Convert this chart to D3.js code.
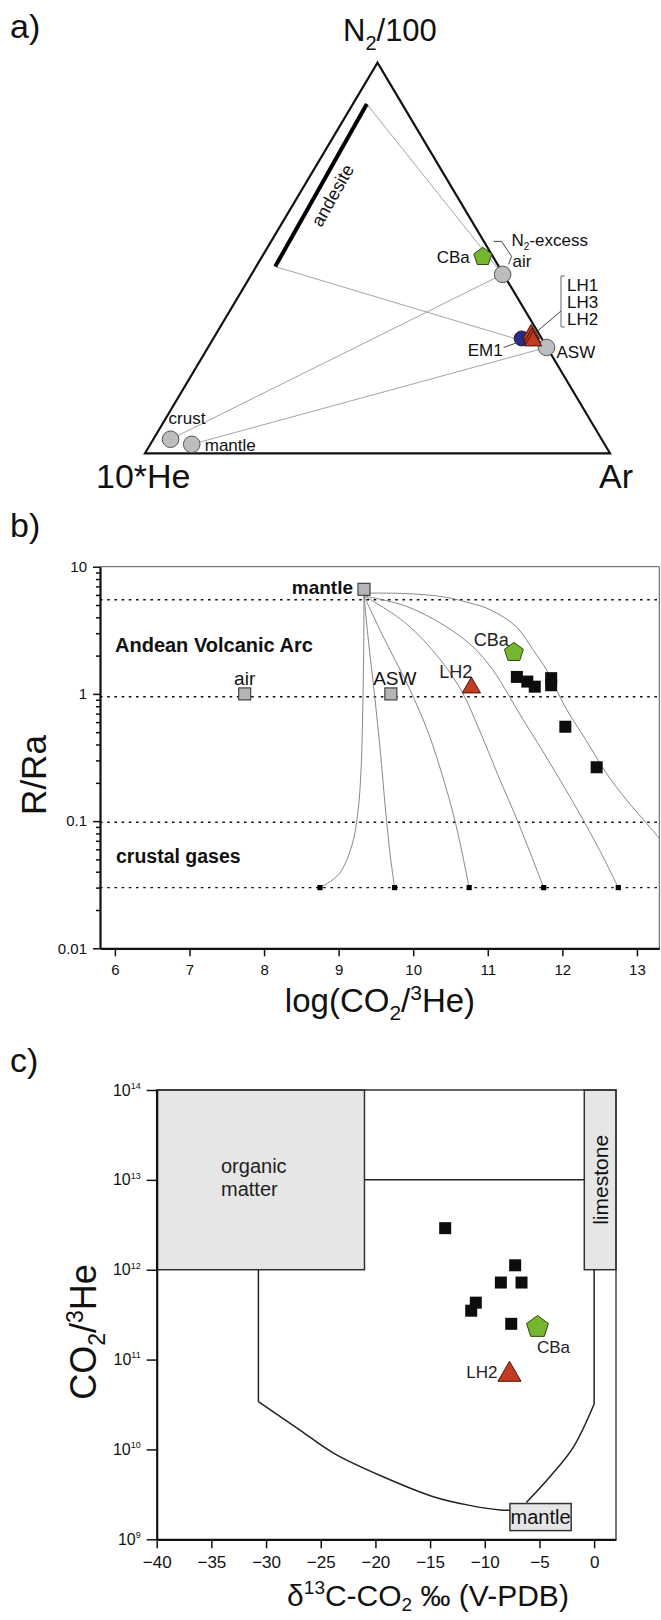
<!DOCTYPE html>
<html><head><meta charset="utf-8">
<script src="https://cdn.jsdelivr.net/npm/d3@7"></script>
<style>body{margin:0;background:#fff}</style>
</head><body>
<script>
// ---------------- DATA ----------------
// Panel a: ternary N2/100 - 10*He - Ar (fractions; He = 1 - N2 - Ar)
const ternaryEndMembers = [
  {name:"air",    N2:0.458, Ar:0.540},
  {name:"ASW",    N2:0.271, Ar:0.728},
  {name:"crust",  N2:0.036, Ar:0.037},
  {name:"mantle", N2:0.023, Ar:0.089}
];
const ternaryCBa = [{name:"CBa", N2:0.503, Ar:0.475}];
const ternaryEM1 = [{name:"EM1", N2:0.294, Ar:0.663}];
const ternaryLH = [
  {name:"LH1", N2:0.305,  Ar:0.678},
  {name:"LH3", N2:0.295,  Ar:0.685},
  {name:"LH2", N2:0.2875, Ar:0.691}
];
const andesiteLine = [{N2:0.894, Ar:0.030}, {N2:0.478, Ar:0.041}];
const ternaryTieLines = [
  [{N2:0.894, Ar:0.030}, {N2:0.458, Ar:0.540}],
  [{N2:0.478, Ar:0.041}, {N2:0.290, Ar:0.661}],
  [{N2:0.036, Ar:0.037}, {N2:0.458, Ar:0.540}],
  [{N2:0.023, Ar:0.089}, {N2:0.271, Ar:0.728}]
];

// Panel b: R/Ra vs log(CO2/3He)
const bXTicks = [6,7,8,9,10,11,12,13];
const bYTicks = [0.01,0.1,1,10];
const bDottedLevels = [5.5, 0.95, 0.098, 0.03];
const bEndMembers = [
  {name:"mantle", x:9.34, r:6.64},
  {name:"air",    x:7.74, r:1.0},
  {name:"ASW",    x:9.70, r:1.0}
];
const bSamples = [
  [11.39,1.36],[11.53,1.25],[11.63,1.14],[11.85,1.33],[11.85,1.17],[12.04,0.552],[12.46,0.265]
];
const bCBa = [{x:11.35, r:2.12}];
const bLH2 = [{x:10.78, r:1.12}];
const bCrustEnds = [8.75, 9.75, 10.75, 11.75, 12.75];
const bCrustR = 0.03;
const bMixingCurves = [
  [[9.34,5.9],[9.335,2.0],[9.32,0.6],[9.30,0.25],[9.26,0.12],[9.18,0.065],[9.0,0.038],[8.75,0.03]],
  [[9.34,5.9],[9.40,2.6],[9.48,1.0],[9.56,0.35],[9.63,0.12],[9.69,0.055],[9.75,0.03]],
  [[9.34,5.9],[9.6,2.8],[9.95,1.1],[10.2,0.5],[10.42,0.2],[10.58,0.09],[10.75,0.03]],
  [[9.34,5.9],[9.9,3.6],[10.35,1.9],[10.65,1.05],[10.9,0.5],[11.15,0.22],[11.4,0.1],[11.75,0.03]],
  [[9.34,5.9],[9.9,4.9],[10.4,3.5],[10.8,2.35],[11.07,1.54],[11.27,1.0],[11.45,0.66],[11.7,0.385],[11.97,0.21],[12.23,0.115],[12.5,0.059],[12.75,0.03]],
  [[9.34,6.2],[9.9,6.15],[10.4,5.8],[10.75,5.2],[11.03,4.6],[11.38,3.38],[11.61,2.21],[11.79,1.54],[11.9,1.14],[12.06,0.75],[12.32,0.43],[12.59,0.238],[12.86,0.147],[13.13,0.096],[13.3,0.073],[13.75,0.03]]
];

// Panel c: CO2/3He vs d13C-CO2
const cXTicks = [-40,-35,-30,-25,-20,-15,-10,-5,0];
const cYTicks = [1e9,1e10,1e11,1e12,1e13,1e14];
const cOrganicBox = {x0:-40, x1:-21, y0:1e12, y1:1e14};
const cLimestoneBox = {x0:-0.9, x1:2, y0:1e12, y1:1e14};
const cMantleBox = {x0:-7.7, x1:-2.1, y0:1.25e9, y1:2.5e9};
const cTopLine = [[-21,1e13],[-0.9,1e13]];
const cLeftVertical = [[-30.7,1e12],[-30.7,3.4e10]];
const cLeftCurve = [[-30.7,3.4e10],[-26.9,1.64e10],[-23.8,9.06e9],[-19.3,4.97e9],[-14.7,2.98e9],[-11.5,2.4e9],[-8.6,2.12e9],[-7.7,2.1e9]];
const cRightVertical = [[0,1e12],[0,3.2e10]];
const cRightCurve = [[0,3.2e10],[-1.88,1.07e10],[-4.02,5.0e9],[-6.2,2.57e9]];
const cSamples = [
  [-13.62,2.9e12],[-7.22,1.12e12],[-8.53,7.2e11],[-6.64,7.2e11],[-10.82,4.3e11],[-11.24,3.5e11],[-7.58,2.5e11]
];
const cCBa = [{x:-5.18, y:2.3e11}];
const cLH2 = [{x:-7.74, y:6.8e10}];

// ---------------- DRAW ----------------
const FONT = "'Liberation Sans', Arial, Helvetica, sans-serif";
const svg = d3.select("body").append("svg")
  .attr("width", 661).attr("height", 1620)
  .style("font-family", FONT).style("background","#fff");

const RED = "#c33b20", GREEN = "#74b72e", BLUE = "#2b2a8a", GREY = "#bdbdbf";

function pentagon(r){
  const pts = d3.range(5).map(k => {
    const a = -Math.PI/2 + k*2*Math.PI/5;
    return [r*Math.cos(a), r*Math.sin(a)];
  });
  return "M" + pts.map(p => p.join(",")).join("L") + "Z";
}
function text(g, x, y, s, size, opts={}){
  const t = g.append("text").attr("x", x).attr("y", y).attr("font-size", size)
    .attr("fill", opts.fill || "#111").text(s);
  if (opts.anchor) t.attr("text-anchor", opts.anchor);
  if (opts.weight) t.attr("font-weight", opts.weight);
  return t;
}

// ===== Panel a =====
const ga = svg.append("g");
const terX = d3.scaleLinear().domain([0,1]).range([145,610]);
const terY = d3.scaleLinear().domain([0,1]).range([453.3,62.7]);
const tx = d => terX(d.Ar + d.N2/2), ty = d => terY(d.N2);
const terLine = d3.line().x(tx).y(ty);

text(ga, 10, 38, "a)", 34);
const ttl = text(ga, 343, 41, "N", 31);
ttl.append("tspan").attr("font-size", 20).attr("dy", 9).text("2");
ttl.append("tspan").attr("dy", -9).text("/100");
text(ga, 96, 488, "10*He", 34);
text(ga, 599, 488, "Ar", 34);

ga.append("path")
  .attr("d", terLine([{N2:0,Ar:0},{N2:1,Ar:0},{N2:0,Ar:1}]) + "Z")
  .attr("fill","none").attr("stroke","#111").attr("stroke-width",2.2).attr("stroke-linejoin","miter");

ternaryTieLines.forEach(l => ga.append("path").attr("d", terLine(l))
  .attr("fill","none").attr("stroke","#9a9a9a").attr("stroke-width",0.9));

ga.append("path").attr("d", terLine(andesiteLine))
  .attr("stroke","#000").attr("stroke-width",4).attr("fill","none");
{
  const p0 = andesiteLine[0], p1 = andesiteLine[1];
  const ang = Math.atan2(ty(p0)-ty(p1), tx(p0)-tx(p1)) * 180/Math.PI;
  ga.append("text").attr("transform", `translate(${(tx(p0)+tx(p1))/2 + 17},${(ty(p0)+ty(p1))/2 + 13}) rotate(${ang})`)
    .attr("text-anchor","middle").attr("font-size",18).attr("fill","#111").text("andesite");
}

ga.selectAll("circle.em").data(ternaryEndMembers).join("circle")
  .attr("cx", tx).attr("cy", ty).attr("r", 8.3)
  .attr("fill", GREY).attr("stroke","#555").attr("stroke-width",1);
ga.selectAll("circle.em1").data(ternaryEM1).join("circle")
  .attr("cx", tx).attr("cy", ty).attr("r", 7.5)
  .attr("fill", BLUE).attr("stroke","#222").attr("stroke-width",1);
ga.selectAll("path.lh").data(ternaryLH).join("path")
  .attr("transform", d => `translate(${tx(d)},${ty(d)})`)
  .attr("d", d3.symbol(d3.symbolTriangle, 125)())
  .attr("fill", RED).attr("stroke","#4a1508").attr("stroke-width",1);
ga.selectAll("path.cba").data(ternaryCBa).join("path")
  .attr("transform", d => `translate(${tx(d)},${ty(d)})`)
  .attr("d", pentagon(9.5))
  .attr("fill", GREEN).attr("stroke","#2e4a12").attr("stroke-width",1);

// labels panel a
{
  const air = ternaryEndMembers[0], asw = ternaryEndMembers[1], crust = ternaryEndMembers[2], mant = ternaryEndMembers[3];
  const cba = ternaryCBa[0], em1 = ternaryEM1[0];
  text(ga, tx(cba)-13, ty(cba)+6, "CBa", 17, {anchor:"end"});
  text(ga, tx(air)+10, ty(air)-7, "air", 17);
  const n2 = text(ga, tx(air)+9, ty(air)-28, "N", 17);
  n2.append("tspan").attr("font-size",10).attr("dy",4).text("2");
  n2.append("tspan").attr("dy",-4).text("-excess");
  ga.append("path").attr("d", `M${tx(air)-9},${ty(air)-33}L${tx(air)-1},${ty(air)-33}L${tx(air)+9},${ty(air)-18}L${tx(air)+6},${ty(air)-10}`)
    .attr("fill","none").attr("stroke","#444").attr("stroke-width",1);
  text(ga, tx(asw)+10, ty(asw)+11, "ASW", 17);
  text(ga, tx(em1)-19, ty(em1)+18, "EM1", 17, {anchor:"end"});
  ga.append("path").attr("d", `M${tx(em1)-18},${ty(em1)+9}L${tx(em1)-4},${ty(em1)+4}`)
    .attr("stroke","#444").attr("stroke-width",1);
  const bx = 561;
  ga.append("path").attr("d", `M${bx+4},276L${bx},276L${bx},327L${bx+4},327`)
    .attr("fill","none").attr("stroke","#666").attr("stroke-width",1);
  ga.append("path").attr("d", `M${bx},311L${tx(ternaryLH[0])+5},${ty(ternaryLH[0])-2}`)
    .attr("stroke","#444").attr("stroke-width",1);
  ternaryLH.forEach((d,i) => text(ga, bx+6, 290.5 + i*17, d.name, 17));
  text(ga, tx(crust)-2, ty(crust)-15, "crust", 17);
  text(ga, tx(mant)+13, ty(mant)+6.5, "mantle", 17);
}

// ===== Panel b =====
const gb = svg.append("g");
const xB = d3.scaleLinear().domain([5.8,13.3]).range([100,659.3]);
const yB = d3.scaleLog().domain([0.01,10]).range([948.3,566.7]);
text(gb, 10, 537, "b)", 34);

svg.append("defs").append("clipPath").attr("id","clipB").append("rect")
  .attr("x",100).attr("y",566.7).attr("width",559.3).attr("height",381.6);

gb.selectAll("line.lvl").data(bDottedLevels).join("line")
  .attr("x1", xB(5.8)).attr("x2", xB(13.3)).attr("y1", d=>yB(d)).attr("y2", d=>yB(d))
  .attr("stroke","#111").attr("stroke-width",1.4).attr("stroke-dasharray","2.6,4.6");

const curveLine = d3.line().x(d=>xB(d[0])).y(d=>yB(d[1])).curve(d3.curveCatmullRom.alpha(0.5));
gb.append("g").attr("clip-path","url(#clipB)").selectAll("path").data(bMixingCurves).join("path")
  .attr("d", curveLine).attr("fill","none").attr("stroke","#7a7a7a").attr("stroke-width",0.9);

gb.selectAll("rect.ce").data(bCrustEnds).join("rect")
  .attr("x", d=>xB(d)-2.6).attr("y", yB(bCrustR)-2.6).attr("width",5.2).attr("height",5.2).attr("fill","#000");

// frame
gb.append("path").attr("d", `M${xB(5.8)},${yB(10)}H${xB(13.3)}V${yB(0.01)}`)
  .attr("fill","none").attr("stroke","#555").attr("stroke-width",1);

gb.selectAll("rect.em").data(bEndMembers).join("rect")
  .attr("x", d=>xB(d.x)-6).attr("y", d=>yB(d.r)-6).attr("width",12).attr("height",12)
  .attr("fill","#b5b5b8").attr("stroke","#444").attr("stroke-width",1.2);
gb.selectAll("rect.smp").data(bSamples).join("rect")
  .attr("x", d=>xB(d[0])-6).attr("y", d=>yB(d[1])-6).attr("width",12).attr("height",12)
  .attr("fill","#0d0d0d");
gb.selectAll("path.cba").data(bCBa).join("path")
  .attr("transform", d=>`translate(${xB(d.x)},${yB(d.r)})`).attr("d", pentagon(10))
  .attr("fill", GREEN).attr("stroke","#2e4a12").attr("stroke-width",1);
gb.selectAll("path.lh2").data(bLH2).join("path")
  .attr("transform", d=>`translate(${xB(d.x)},${yB(d.r)})`).attr("d", d3.symbol(d3.symbolTriangle,145)())
  .attr("fill", RED).attr("stroke","#4a1508").attr("stroke-width",1);

// labels b
text(gb, xB(bEndMembers[0].x)-11, yB(bEndMembers[0].r)+5, "mantle", 19, {anchor:"end", weight:"bold"});
text(gb, xB(bEndMembers[1].x), yB(bEndMembers[1].r)-9, "air", 19, {anchor:"middle"});
text(gb, xB(bEndMembers[2].x)+4, yB(bEndMembers[2].r)-9, "ASW", 19, {anchor:"middle"});
text(gb, xB(bLH2[0].x)+1, yB(bLH2[0].r)-10, "LH2", 18, {anchor:"end", fill:"#222"});
text(gb, xB(bCBa[0].x)-5, yB(bCBa[0].r)-6, "CBa", 18, {anchor:"end", fill:"#222"});
text(gb, 115, 652, "Andean Volcanic Arc", 20, {weight:"bold"});
text(gb, 116, 863, "crustal gases", 19.5, {weight:"bold"});

// axes b
const axBx = gb.append("g").attr("transform",`translate(0,${yB(0.01)})`)
  .call(d3.axisBottom(xB).tickValues(bXTicks).tickSize(8).tickSizeOuter(0).tickPadding(8));
const bMinor = [];
[0.01,0.1,1].forEach(e => d3.range(2,10).forEach(k => bMinor.push(k*e)));
gb.append("g").attr("transform",`translate(${xB(5.8)},0)`)
  .call(d3.axisLeft(yB).tickValues(bMinor).tickSize(4).tickSizeOuter(0).tickFormat(""));
const axBy = gb.append("g").attr("transform",`translate(${xB(5.8)},0)`)
  .call(d3.axisLeft(yB).tickValues(bYTicks).tickSize(7).tickSizeOuter(0).tickPadding(6).tickFormat(d=>String(d)));
[axBx, axBy].forEach(a => {
  a.selectAll("text").attr("font-size",15).attr("font-family",FONT).attr("fill","#111");
  a.select(".domain").attr("stroke","#111").attr("stroke-width",2.2);
});
gb.selectAll(".tick line").attr("stroke","#111").attr("stroke-width",1.5);

gb.append("text").attr("transform","translate(46,775) rotate(-90)").attr("text-anchor","middle")
  .attr("font-size",35).attr("fill","#111").text("R/Ra");
{
  const t = text(gb, 380, 1012, "log(CO", 33, {anchor:"middle"});
  t.append("tspan").attr("font-size",21).attr("dy",8).text("2");
  t.append("tspan").attr("dy",-8).text("/");
  t.append("tspan").attr("font-size",21).attr("dy",-12).text("3");
  t.append("tspan").attr("dy",12).text("He)");
}

// ===== Panel c =====
const gc = svg.append("g");
const xC = d3.scaleLinear().domain([-40,2]).range([156.7,616]);
const yC = d3.scaleLog().domain([1e9,1e14]).range([1539.3,1090]);
text(gc, 10, 1072, "c)", 34);

const boxRect = (b) => gc.append("rect")
  .attr("x", xC(b.x0)).attr("y", yC(b.y1)).attr("width", xC(b.x1)-xC(b.x0)).attr("height", yC(b.y0)-yC(b.y1))
  .attr("fill","#e6e6e6").attr("stroke","#333").attr("stroke-width",1.5);
boxRect(cOrganicBox);
boxRect(cLimestoneBox);

const lineC = d3.line().x(d=>xC(d[0])).y(d=>yC(d[1]));
const curveC = d3.line().x(d=>xC(d[0])).y(d=>yC(d[1])).curve(d3.curveCatmullRom.alpha(0.5));
[cTopLine, cLeftVertical, cRightVertical].forEach(l => gc.append("path").attr("d", lineC(l))
  .attr("fill","none").attr("stroke","#222").attr("stroke-width",1.5));
[cLeftCurve, cRightCurve].forEach(l => gc.append("path").attr("d", curveC(l))
  .attr("fill","none").attr("stroke","#222").attr("stroke-width",1.5));
boxRect(cMantleBox);

// frame
gc.append("path").attr("d", `M${xC(-40)},${yC(1e14)}H${xC(2)}V${yC(1e9)}`)
  .attr("fill","none").attr("stroke","#333").attr("stroke-width",1.3);

{
  const t = gc.append("text").attr("x", 221).attr("font-size",20).attr("fill","#222");
  t.append("tspan").attr("x",221).attr("y",1173).text("organic");
  t.append("tspan").attr("x",221).attr("y",1196).text("matter");
  gc.append("text").attr("transform",`translate(${(xC(cLimestoneBox.x0)+xC(cLimestoneBox.x1))/2+7.5},${(yC(cLimestoneBox.y0)+yC(cLimestoneBox.y1))/2}) rotate(-90)`)
    .attr("text-anchor","middle").attr("font-size",21).attr("fill","#111").text("limestone");
  gc.append("text").attr("x",(xC(cMantleBox.x0)+xC(cMantleBox.x1))/2).attr("y",yC(cMantleBox.y0)-7)
    .attr("text-anchor","middle").attr("font-size",20).attr("fill","#111").text("mantle");
}

gc.selectAll("rect.smp").data(cSamples).join("rect")
  .attr("x", d=>xC(d[0])-6).attr("y", d=>yC(d[1])-6).attr("width",12).attr("height",12)
  .attr("fill","#0d0d0d");
gc.selectAll("path.cba").data(cCBa).join("path")
  .attr("transform", d=>`translate(${xC(d.x)},${yC(d.y)})`).attr("d", pentagon(11.5))
  .attr("fill", GREEN).attr("stroke","#2e4a12").attr("stroke-width",1);
gc.selectAll("path.lh2").data(cLH2).join("path")
  .attr("transform", d=>`translate(${xC(d.x)},${yC(d.y)})`).attr("d", d3.symbol(d3.symbolTriangle,230)())
  .attr("fill", RED).attr("stroke","#4a1508").attr("stroke-width",1);
text(gc, xC(cCBa[0].x)-0.5, yC(cCBa[0].y)+26, "CBa", 17, {fill:"#222"});
text(gc, xC(cLH2[0].x)-12, yC(cLH2[0].y)+3, "LH2", 17, {anchor:"end", fill:"#222"});

// axes c
const axCx = gc.append("g").attr("transform",`translate(0,${yC(1e9)})`)
  .call(d3.axisBottom(xC).tickValues(cXTicks).tickSize(9).tickSizeOuter(0).tickPadding(8));
const axCy = gc.append("g").attr("transform",`translate(${xC(-40)},0)`)
  .call(d3.axisLeft(yC).tickValues(cYTicks).tickSize(10).tickSizeOuter(0).tickPadding(6).tickFormat(""));
axCx.selectAll("text").attr("font-size",17).attr("font-family",FONT).attr("fill","#111");
axCy.selectAll(".tick text").each(function(d){
  const t = d3.select(this).attr("font-size",16).attr("font-family",FONT).attr("fill","#111");
  t.text("");
  t.append("tspan").text("10");
  t.append("tspan").attr("font-size",9).attr("dy","-0.75em").text(String(Math.round(Math.log10(d))));
});
[axCx, axCy].forEach(a => {
  a.select(".domain").attr("stroke","#111").attr("stroke-width",2.2);
  a.selectAll(".tick line").attr("stroke","#111").attr("stroke-width",1.5);
});

gc.append("text").attr("transform","translate(96,1332) rotate(-90)").attr("text-anchor","middle")
  .attr("font-size",36).attr("fill","#111")
  .call(t => {
    t.append("tspan").text("CO");
    t.append("tspan").attr("font-size",23).attr("dy",9).text("2");
    t.append("tspan").attr("dy",-9).text("/");
    t.append("tspan").attr("font-size",23).attr("dy",-13).text("3");
    t.append("tspan").attr("dy",13).text("He");
  });
{
  const t = text(gc, 428, 1606, "δ", 30, {anchor:"middle"});
  t.append("tspan").attr("font-size",19).attr("dy",-12).text("13");
  t.append("tspan").attr("dy",12).text("C-CO");
  t.append("tspan").attr("font-size",19).attr("dy",5).text("2");
  t.append("tspan").attr("dy",-5).text(" ‰ (V-PDB)");
}
</script>
</body></html>
